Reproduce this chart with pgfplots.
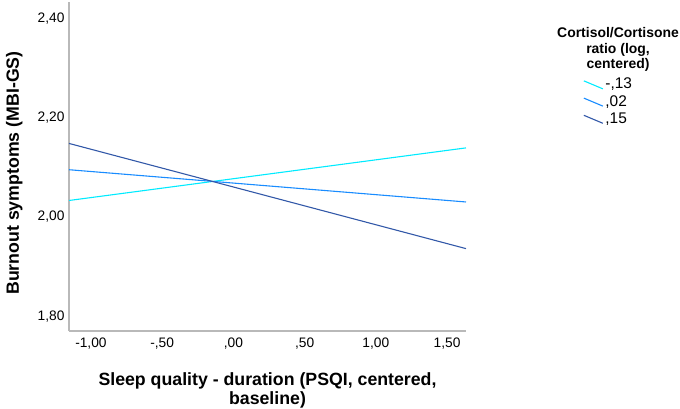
\documentclass[border=0pt]{standalone}
\usepackage{pgfplots}
\pgfplotsset{compat=1.18}
\usepackage{fontspec}
\setmainfont{Liberation Sans}
\definecolor{cyanl}{RGB}{0,235,255}
\definecolor{midl}{RGB}{25,140,255}
\definecolor{darkl}{RGB}{50,88,168}
\definecolor{axgray}{RGB}{185,185,185}
\begin{document}
\begin{tikzpicture}
\begin{axis}[
  at={(0,0)}, anchor=south west,
  scale only axis, width=397bp, height=329bp,
  xmin=-1.154, xmax=1.633, ymin=1.77, ymax=2.433,
  axis x line*=bottom, axis y line*=left,
  axis line style={axgray, line width=1.2pt},
  x axis line style={-}, y axis line style={-},
  major tick length=0pt,
  xtick={-1,-0.5,0,0.5,1,1.5},
  xticklabels={{-1,00},{-,50},{,00},{,50},{1,00},{1,50}},
  ytick={1.8,2.0,2.2,2.4},
  yticklabels={{1,80},{2,00},{2,20},{2,40}},
  tick label style={font=\fontsize{13.8}{15}\selectfont, text=black},
  xticklabel style={yshift=-3bp},
  yticklabel style={xshift=-1bp},
  xlabel={Sleep quality - duration (PSQI, centered,\\baseline)},
  xlabel style={font=\fontsize{17.8}{19}\selectfont\bfseries, align=center, at={(axis description cs:0.5,-0.115)}, anchor=north},
  ylabel={Burnout symptoms (MBI-GS)},
  ylabel style={font=\fontsize{17.8}{19}\selectfont\bfseries, at={(axis description cs:-0.138,0.48)}, anchor=center},
  legend cell align=left,
  legend image code/.code={\draw[#1] (0bp,3.5bp) -- (19bp,-4.5bp);},
  legend style={at={(axis description cs:1.295,0.775)}, anchor=north west, draw=none, fill=none,
    font=\fontsize{15.5}{17}\selectfont, inner sep=0pt, row sep=1bp,
    /tikz/every even column/.append style={column sep=1bp}},
  clip=false,
]
\addplot[cyanl, line width=1.1pt] coordinates {(-1.154,2.033) (1.633,2.139)};
\addlegendentry{-,13}
\addplot[midl, line width=1.1pt] coordinates {(-1.154,2.095) (1.633,2.030)};
\addlegendentry{,02}
\addplot[darkl, line width=1.1pt] coordinates {(-1.154,2.148) (1.633,1.936)};
\addlegendentry{,15}
\node[font=\fontsize{14}{15.5}\selectfont\bfseries, align=center, anchor=center] at (axis description cs:1.383,0.855) {Cortisol/Cortisone\\ratio (log,\\centered)};
\end{axis}
\pgfresetboundingbox
\path[use as bounding box] (-69bp,-78bp) rectangle (611bp,331bp);
\end{tikzpicture}
\end{document}
